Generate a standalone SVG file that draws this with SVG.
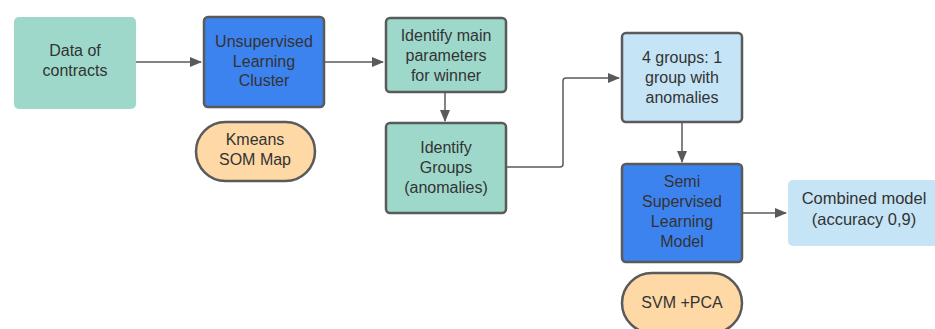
<svg xmlns="http://www.w3.org/2000/svg" width="935" height="329" viewBox="0 0 935 329">
<defs>
<style>
.t{font-family:"Liberation Sans",Arial,sans-serif;font-size:16px;fill:#333;text-anchor:middle}
.s{stroke:#5a5a5a;stroke-width:2.5}
.teal{fill:#9ed8cb}
.blue{fill:#3d83f0}
.org{fill:#fed9a5}
.lb{fill:#c5e4f6}
.c{fill:none;stroke:#5a5a5a;stroke-width:1.5}
</style>
<marker id="a" markerWidth="12" markerHeight="10" refX="11" refY="5" orient="auto" markerUnits="userSpaceOnUse">
<path d="M0,0 L12,5 L0,10 Z" fill="#5a5a5a"/>
</marker>
</defs>
<rect width="935" height="329" fill="#fff"/>
<g id="connectors">
<path class="c" d="M136,62 H201" marker-end="url(#a)"/>
<path class="c" d="M324,62 H383" marker-end="url(#a)"/>
<path class="c" d="M445,92 V121" marker-end="url(#a)"/>
<path class="c" d="M506,167 H560 Q563,167 563,164 V81 Q563,78 566,78 H619" marker-end="url(#a)"/>
<path class="c" d="M682,122 V162" marker-end="url(#a)"/>
<path class="c" d="M742,213 H786" marker-end="url(#a)"/>
</g>
<g id="data">
<rect class="teal" x="14" y="17" width="122" height="92" rx="5"/>
<text class="t" x="75" y="56">Data of</text>
<text class="t" x="75" y="76">contracts</text>
</g>
<g id="unsup">
<rect class="blue s" x="204" y="17" width="120" height="90" rx="4"/>
<text class="t" x="264" y="47">Unsupervised</text>
<text class="t" x="264" y="67">Learning</text>
<text class="t" x="264" y="86">Cluster</text>
</g>
<g id="kmeans">
<rect class="org s" x="196" y="122" width="119" height="59" rx="29.5"/>
<text class="t" x="255" y="145">Kmeans</text>
<text class="t" x="255" y="165">SOM Map</text>
</g>
<g id="identify-main">
<rect class="teal s" x="386" y="18" width="120" height="74" rx="4"/>
<text class="t" x="446" y="41">Identify main</text>
<text class="t" x="446" y="61">parameters</text>
<text class="t" x="446" y="81">for winner</text>
</g>
<g id="identify-groups">
<rect class="teal s" x="386" y="123" width="120" height="90" rx="4"/>
<text class="t" x="446" y="153">Identify</text>
<text class="t" x="446" y="173">Groups</text>
<text class="t" x="446" y="193">(anomalies)</text>
</g>
<g id="groups4">
<rect class="lb s" x="622" y="33" width="120" height="89" rx="4"/>
<text class="t" x="682" y="63">4 groups: 1</text>
<text class="t" x="682" y="83">group with</text>
<text class="t" x="682" y="103">anomalies</text>
</g>
<g id="semi">
<rect class="blue s" x="622" y="164" width="120" height="98" rx="4"/>
<text class="t" x="682" y="187">Semi</text>
<text class="t" x="682" y="207">Supervised</text>
<text class="t" x="682" y="227">Learning</text>
<text class="t" x="682" y="247">Model</text>
</g>
<g id="combined">
<rect class="lb" x="788" y="180" width="160" height="66" rx="5"/>
<text class="t" x="864" y="204" style="font-size:16.5px">Combined model</text>
<text class="t" x="864" y="225" style="font-size:16.5px">(accuracy 0,9)</text>
</g>
<g id="svm">
<rect class="org s" x="622" y="273" width="120" height="60" rx="30"/>
<text class="t" x="682" y="308">SVM +PCA</text>
</g>
</svg>
